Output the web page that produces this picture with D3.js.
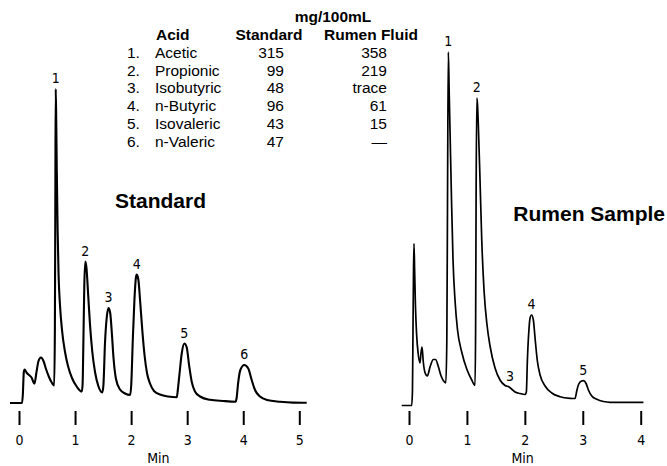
<!DOCTYPE html>
<html>
<head>
<meta charset="utf-8">
<script src="https://cdn.jsdelivr.net/npm/d3@7"></script>
<style>
  html, body { margin: 0; padding: 0; background: #fff; }
  svg { display: block; }
  .tbl { font-family: "Liberation Sans", Arial, Helvetica, sans-serif; font-size: 15.5px; fill: #000; }
  .tbl .hd { font-weight: bold; }
  .title { font-family: "Liberation Sans", Arial, Helvetica, sans-serif; font-weight: bold; font-size: 21px; fill: #000; }
  .cond { font-family: "Liberation Sans Narrow", "DejaVu Sans Condensed", "Roboto Condensed", sans-serif; font-stretch: condensed; font-size: 14px; fill: #000; }
</style>
</head>
<body>
<svg id="chart" width="667" height="466"></svg>
<script>
// Volatile fatty acid chromatograms: standard mix vs. rumen fluid sample

// Concentration table (mg/100mL)
const acidNumbers = ["1.", "2.", "3.", "4.", "5.", "6."];
const acidNames = ["Acetic", "Propionic", "Isobutyric", "n-Butyric", "Isovaleric", "n-Valeric"];
const standardConc = ["315", "99", "48", "96", "43", "47"];
const rumenConc = ["358", "219", "trace", "61", "15", "\u2014"];

// Standard trace: retention time (min) and detector response
const stdTime = [-0.161, 0.054, 0.068, 0.086, 0.100, 0.134, 0.178, 0.223, 0.276, 0.312,
  0.348, 0.392, 0.437, 0.482, 0.535, 0.589, 0.628, 0.640, 0.648, 0.655,
  0.664, 0.674, 0.689, 0.706, 0.731, 0.767, 0.821, 0.874, 0.945, 1.035,
  1.120, 1.134, 1.149, 1.165, 1.183, 1.204, 1.234, 1.267, 1.308, 1.356,
  1.415, 1.486, 1.506, 1.534, 1.566, 1.597, 1.627, 1.656, 1.686, 1.730,
  1.802, 1.891, 1.984, 2.002, 2.030, 2.059, 2.087, 2.101, 2.130, 2.162,
  2.199, 2.239, 2.283, 2.337, 2.408, 2.515, 2.658, 2.815, 2.833, 2.861,
  2.904, 2.949, 2.990, 3.036, 3.082, 3.139, 3.229, 3.407, 3.639, 3.862,
  3.882, 3.907, 3.948, 4.019, 4.090, 4.151, 4.210, 4.299, 4.424, 4.656,
  4.888, 5.132];
const stdSignal = [0, 0, 8, 31, 33.5, 30.5, 28, 25.5, 19.5, 31,
  42, 45.5, 42, 34, 26, 20, 17.5, 73, 203, 314,
  283, 233, 173, 128, 98, 73, 51, 37, 25, 16,
  11.5, 18, 63, 118, 141.5, 135, 108, 78, 51, 31,
  17, 10.5, 18, 60, 86, 95, 90, 70, 45, 24,
  13.5, 9.5, 8, 18, 63, 103, 126, 128.5, 123, 101,
  73, 48, 30, 19.5, 12, 8.5, 6.5, 5.8, 13, 28,
  50, 59.5, 56, 37, 21, 11.5, 6.5, 3.2, 2, 1.3,
  5, 19, 33, 38, 34.5, 23, 13, 6.5, 3, 1.3,
  0.4, 0.2];

// Rumen fluid trace
const rumTime = [-0.126, 0.047, 0.060, 0.069, 0.078, 0.086, 0.097, 0.111, 0.130, 0.159,
  0.190, 0.207, 0.225, 0.247, 0.276, 0.316, 0.363, 0.420, 0.458, 0.506,
  0.548, 0.592, 0.636, 0.653, 0.665, 0.679, 0.693, 0.708, 0.734, 0.760,
  0.794, 0.838, 0.910, 0.997, 1.083, 1.140, 1.150, 1.159, 1.171, 1.183,
  1.197, 1.226, 1.256, 1.295, 1.347, 1.399, 1.485, 1.572, 1.658, 1.727,
  1.770, 1.831, 1.917, 2.003, 2.026, 2.044, 2.068, 2.090, 2.116, 2.147,
  2.176, 2.216, 2.263, 2.349, 2.465, 2.608, 2.781, 2.867, 2.896, 2.927,
  2.979, 3.010, 3.057, 3.097, 3.155, 3.242, 3.356, 3.472, 4.047];
const rumSignal = [0.5, 0.5, 16, 76, 136, 162.5, 136, 101, 73, 52,
  43, 53, 59, 44, 33.5, 30, 39, 46.5, 46.5, 39.5,
  31, 25.5, 23.2, 66, 206, 354, 316, 276, 206, 146,
  106, 76, 54, 37, 26, 20.5, 76, 216, 308, 301,
  281, 226, 166, 116, 81, 60, 38, 26, 20.5, 19,
  17, 14, 12.5, 11.5, 14, 46, 74, 88, 91, 86,
  68, 45, 31, 20, 13, 9.3, 7.7, 7.5, 15, 21.5,
  25, 25.3, 22.5, 16, 10, 6.7, 4.5, 3.7, 3.7];

// Peak identifiers with apex time and response
const stdPeakIds = ["1", "2", "3", "4", "5", "6"];
const stdPeakTimes = [0.655, 1.183, 1.597, 2.101, 2.949, 4.019];
const stdPeakHeights = [314, 141.5, 95, 128.5, 59.5, 38];
const rumPeakIds = ["1", "2", "3", "4", "5"];
const rumPeakTimes = [0.679, 1.171, 1.744, 2.116, 3.010];
const rumPeakHeights = [354, 308, 19, 91, 25.3];

const stdTicks = [0, 1, 2, 3, 4, 5];
const rumTicks = [0, 1, 2, 3, 4];

const svg = d3.select("#chart");

function drawPanel(cfg) {
  const x = d3.scaleLinear().domain(cfg.xDomain).range(cfg.xRange);
  const y = d3.scaleLinear().domain(cfg.yDomain).range(cfg.yRange);
  const g = svg.append("g");

  const pts = cfg.time.map((t, i) => [t, cfg.signal[i]]);
  const line = d3.line()
    .x(d => x(d[0]))
    .y(d => y(d[1]))
    .curve(d3.curveMonotoneX);

  g.append("path")
    .datum(pts)
    .attr("d", line)
    .attr("fill", "none")
    .attr("stroke", "#000")
    .attr("stroke-width", cfg.strokeWidth)
    .attr("stroke-linejoin", "round");

  g.selectAll("text.peak")
    .data(cfg.peakIds)
    .join("text")
    .attr("class", "peak cond")
    .attr("x", (d, i) => x(cfg.peakTimes[i]))
    .attr("y", (d, i) => y(cfg.peakHeights[i]) - 6)
    .attr("text-anchor", "middle")
    .text(d => d);

  const axis = d3.axisBottom(x)
    .tickValues(cfg.ticks)
    .tickFormat(d3.format("d"))
    .tickSize(14)
    .tickPadding(10);

  const ax = g.append("g")
    .attr("transform", `translate(0,${cfg.axisY})`)
    .call(axis);
  ax.select(".domain").remove();
  ax.selectAll(".tick line").attr("stroke", "#000").attr("stroke-width", 2);
  ax.selectAll(".tick text")
    .attr("class", "cond")
    .attr("fill", "#000")
    .style("font-size", "14px");

  const tMid = (d3.min(cfg.time) + d3.max(cfg.time)) / 2;
  g.append("text")
    .attr("class", "cond")
    .attr("x", x(tMid))
    .attr("y", cfg.axisY + 52)
    .attr("text-anchor", "middle")
    .text("Min");

  g.append("text")
    .attr("class", "title")
    .attr("x", cfg.titleX)
    .attr("y", cfg.titleY)
    .attr("text-anchor", cfg.titleAnchor)
    .text(cfg.title);
}

drawPanel({
  time: stdTime, signal: stdSignal,
  xDomain: [0, 5], xRange: [19, 299.3],
  yDomain: [0, 320], yRange: [403, 83],
  ticks: stdTicks, axisY: 411,
  peakIds: stdPeakIds, peakTimes: stdPeakTimes, peakHeights: stdPeakHeights,
  strokeWidth: 2.1,
  title: "Standard", titleX: 115, titleY: 208, titleAnchor: "start"
});

drawPanel({
  time: rumTime, signal: rumSignal,
  xDomain: [0, 4], xRange: [409, 640.7],
  yDomain: [0, 360], yRange: [406, 46],
  ticks: rumTicks, axisY: 411,
  peakIds: rumPeakIds, peakTimes: rumPeakTimes, peakHeights: rumPeakHeights,
  strokeWidth: 1.7,
  title: "Rumen Sample", titleX: 665, titleY: 221, titleAnchor: "end"
});

// Concentration table
const tbl = svg.append("g").attr("class", "tbl");
const rowY0 = 58, rowStep = 17.7;

tbl.append("text").attr("class", "hd").attr("x", 333).attr("y", 22)
  .attr("text-anchor", "middle").text("mg/100mL");
tbl.append("text").attr("class", "hd").attr("x", 156).attr("y", 40).text("Acid");
tbl.append("text").attr("class", "hd").attr("x", 269).attr("y", 40)
  .attr("text-anchor", "middle").text("Standard");
tbl.append("text").attr("class", "hd").attr("x", 371).attr("y", 40)
  .attr("text-anchor", "middle").text("Rumen Fluid");

const rows = tbl.selectAll("g.row")
  .data(acidNames)
  .join("g")
  .attr("class", "row")
  .attr("transform", (d, i) => `translate(0,${rowY0 + i * rowStep})`);

rows.append("text").attr("x", 127).text((d, i) => acidNumbers[i]);
rows.append("text").attr("x", 155).text(d => d);
rows.append("text").attr("x", 284).attr("text-anchor", "end").text((d, i) => standardConc[i]);
rows.append("text").attr("x", 387).attr("text-anchor", "end").text((d, i) => rumenConc[i]);
</script>
</body>
</html>
